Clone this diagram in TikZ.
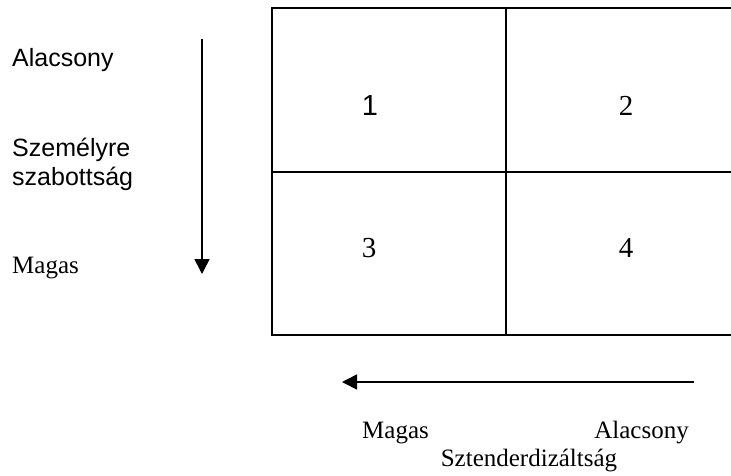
\documentclass[tikz,border=0pt]{standalone}
\usepackage{fontspec}
\setmainfont{Liberation Serif}
\newfontfamily\arialf{Liberation Sans}
\usetikzlibrary{arrows.meta}
\begin{document}
\begin{tikzpicture}[x=1pt,y=-1pt,
  ln/.style={line width=1.6pt},
  arr/.style={line width=1.6pt,-{Triangle[length=15pt,width=15pt]}},
  lbl/.style={inner sep=0pt,font=\fontsize{25}{29}\selectfont},
  sanslbl/.style={inner sep=0pt,font=\arialf\fontsize{25}{29}\selectfont},
  num/.style={inner sep=0pt,anchor=base,font=\fontsize{29}{33}\selectfont}]
\useasboundingbox (0,0) rectangle (731,475);
% grid
\draw[ln] (731,8) -- (272,8) -- (272,335) -- (731,335);
\draw[ln] (272,172) -- (731,172);
\draw[ln] (506,8) -- (506,335);
\node[num,font=\arialf\fontsize{29}{33}\selectfont] (c1) at (370,115) {1};
\node[num] (c2) at (626,115) {2};
\node[num] (c3) at (369,257) {3};
\node[num] (c4) at (626,257) {4};
% vertical axis
\coordinate (vtop) at (202,39);
\coordinate (vbot) at (202,274);
\draw[arr] (vtop) -- (vbot);
\node[sanslbl,anchor=base west] (lowL) at (12,66) {Alacsony};
\node[sanslbl,anchor=base west] (sz1) at (12,156) {Személyre};
\node[sanslbl,anchor=base west] (sz2) at (12,185) {szabottság};
\node[lbl,anchor=base west] (highL) at (12,273) {Magas};
% horizontal axis
\coordinate (hright) at (694,382);
\coordinate (hleft) at (342,382);
\draw[arr] (hright) -- (hleft);
\node[lbl,anchor=base west] (highB) at (362,438) {Magas};
\node[lbl,anchor=base east] (lowB) at (689,438) {Alacsony};
\node[lbl,anchor=base] (szt) at (529,466) {Sztenderdizáltság};
\end{tikzpicture}
\end{document}
